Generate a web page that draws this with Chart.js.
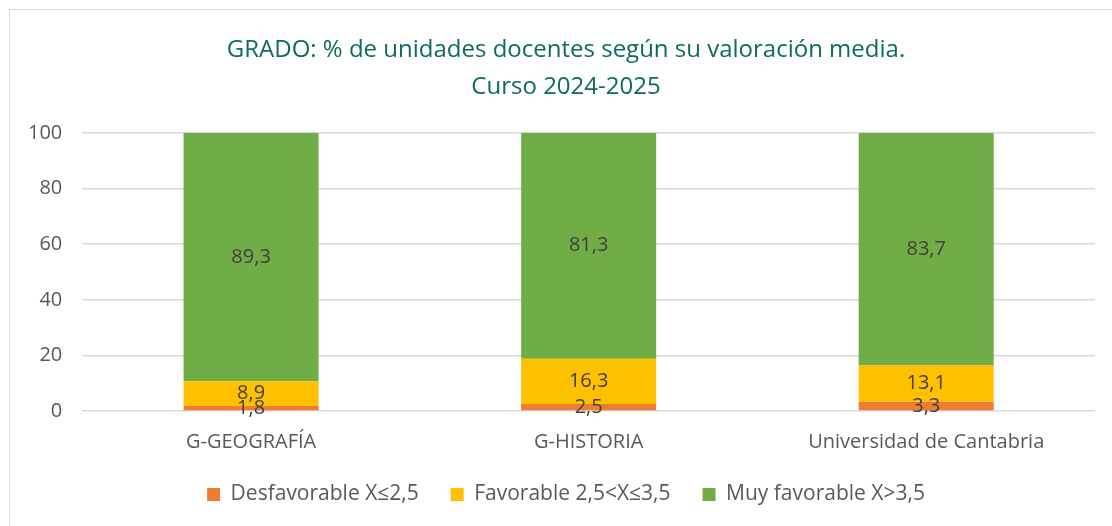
<!DOCTYPE html>
<html>
<head>
<meta charset="utf-8">
<script src="https://cdn.jsdelivr.net/npm/chart.js@4"></script>
<style>
  body { margin: 0; background: #fff; }
  #frame { position: absolute; left: 9px; top: 9px; width: 1110px; height: 530px; border: 1px solid #d9d9d9; box-sizing: border-box; }
  #wrap { position: absolute; left: 0; top: 0; width: 1112px; height: 526px; }
</style>
</head>
<body>
<div id="frame"></div>
<div id="wrap"><canvas id="gradoChart" width="1112" height="526"></canvas></div>
<script>
// data
const categories = ['G-GEOGRAFÍA', 'G-HISTORIA', 'Universidad de Cantabria'];
const desfavorable = [1.8, 2.5, 3.3];
const favorable = [8.9, 16.3, 13.1];
const muyFavorable = [89.3, 81.3, 83.7];
const yTicks = [0, 20, 40, 60, 80, 100];

const fontFamily = "'Open Sans', 'Noto Sans', sans-serif";

// draw the value in the middle of each bar segment
const segmentLabels = {
  id: 'segmentLabels',
  afterDatasetsDraw(chart) {
    const ctx = chart.ctx;
    ctx.save();
    ctx.font = '20px ' + fontFamily;
    ctx.fillStyle = '#404040';
    ctx.textAlign = 'center';
    ctx.textBaseline = 'middle';
    chart.data.datasets.forEach((ds, i) => {
      chart.getDatasetMeta(i).data.forEach((bar, j) => {
        const p = bar.getCenterPoint();
        ctx.fillText(ds.data[j].toFixed(1).replace('.', ','), p.x, p.y);
      });
    });
    ctx.restore();
  }
};

new Chart(document.getElementById('gradoChart'), {
  type: 'bar',
  data: {
    labels: categories,
    datasets: [
      { label: 'Desfavorable X≤2,5', data: desfavorable, backgroundColor: '#ED7D31' },
      { label: 'Favorable 2,5<X≤3,5', data: favorable, backgroundColor: '#FFC000' },
      { label: 'Muy favorable X>3,5', data: muyFavorable, backgroundColor: '#70AD47' }
    ]
  },
  options: {
    responsive: false,
    animation: false,
    layout: { padding: { left: 8, right: -12, top: 32, bottom: 11 } },
    datasets: { bar: { categoryPercentage: 1, barPercentage: 0.4 } },
    plugins: {
      title: {
        display: true,
        text: ['GRADO: % de unidades docentes según su valoración media.', 'Curso 2024-2025'],
        color: '#0E6B5E',
        font: { family: fontFamily, size: 24, weight: 'normal', lineHeight: 37 / 24 },
        padding: { top: 0, bottom: 27 }
      },
      legend: {
        position: 'bottom',
        labels: {
          color: '#595959',
          font: { family: fontFamily, size: 21 },
          boxWidth: 13,
          boxHeight: 13,
          padding: 32
        }
      },
      tooltip: { enabled: false }
    },
    scales: {
      x: {
        stacked: true,
        grid: { display: false, tickLength: 21 },
        border: { display: false },
        ticks: { color: '#595959', font: { family: fontFamily, size: 20, lineHeight: 1 }, padding: 0 }
      },
      y: {
        stacked: true,
        min: 0,
        max: 100,
        afterBuildTicks: axis => { axis.ticks = yTicks.map(v => ({ value: v })); },
        grid: { color: '#d9d9d9', lineWidth: 1.5, drawTicks: false },
        border: { display: false },
        ticks: { color: '#595959', font: { family: fontFamily, size: 20 }, padding: 20 }
      },
      // empty spacer on the right so the title and legend sit where they do in the original
      spacer: {
        position: 'right',
        grid: { display: false },
        border: { display: false },
        ticks: { display: false },
        afterFit: scale => { scale.width = 29; }
      }
    }
  },
  plugins: [segmentLabels]
});
</script>
</body>
</html>
